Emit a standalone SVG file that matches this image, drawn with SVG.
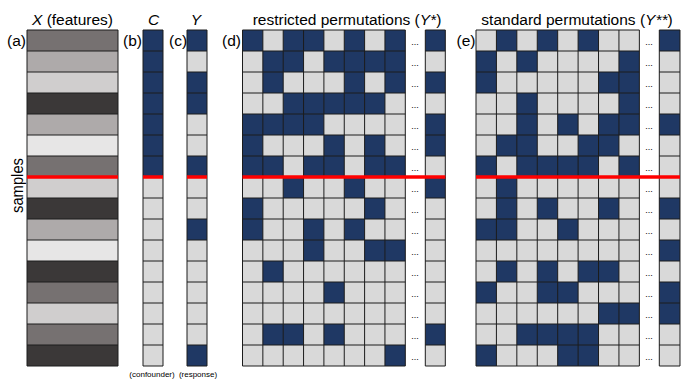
<svg xmlns="http://www.w3.org/2000/svg" width="692" height="389" viewBox="0 0 692 389">
<style>
text{font-family:"Liberation Sans",Arial,sans-serif;fill:#000}
.t{font-size:15.5px}
.s{font-size:8px}
.i{font-style:italic}
.dots{font-size:9px;fill:#444;text-anchor:middle}
.g{fill:#d9d9d9}
.b{fill:#1f3864}
.grid{fill:none;stroke:#1c1c1c;stroke-width:1;vector-effect:non-scaling-stroke}
.red{stroke:#ff0000;stroke-width:3.5}
</style>
<rect width="692" height="389" fill="#fff"/>

<g id="panel-a">
  <g transform="translate(27 30) scale(91 21)">
    <rect y="0" width="1" height="1" fill="#767171"/>
    <rect y="1" width="1" height="1" fill="#aeaaaa"/>
    <rect y="2" width="1" height="1" fill="#d0cece"/>
    <rect y="3" width="1" height="1" fill="#3b3838"/>
    <rect y="4" width="1" height="1" fill="#aeaaaa"/>
    <rect y="5" width="1" height="1" fill="#e7e6e6"/>
    <rect y="6" width="1" height="1" fill="#767171"/>
    <rect y="7" width="1" height="1" fill="#d0cece"/>
    <rect y="8" width="1" height="1" fill="#3b3838"/>
    <rect y="9" width="1" height="1" fill="#aeaaaa"/>
    <rect y="10" width="1" height="1" fill="#e7e6e6"/>
    <rect y="11" width="1" height="1" fill="#3b3838"/>
    <rect y="12" width="1" height="1" fill="#767171"/>
    <rect y="13" width="1" height="1" fill="#d0cece"/>
    <rect y="14" width="1" height="1" fill="#767171"/>
    <rect y="15" width="1" height="1" fill="#3b3838"/>
    <path class="grid" d="M0 0H1M0 1H1M0 2H1M0 3H1M0 4H1M0 5H1M0 6H1M0 7H1M0 8H1M0 9H1M0 10H1M0 11H1M0 12H1M0 13H1M0 14H1M0 15H1M0 16H1M0 0V16M1 0V16"/>
  </g>
  <line class="red" x1="27" y1="177" x2="118" y2="177"/>
  <text class="t" x="72.5" y="25" text-anchor="middle"><tspan class="i">X</tspan> (features)</text>
  <text class="t" x="7" y="45.5">(a)</text>
  <text x="23" y="185.5" font-size="17" text-anchor="middle" textLength="55" lengthAdjust="spacingAndGlyphs" transform="rotate(-90 23 185.5)">samples</text>
</g>

<g id="panel-b">
  <g transform="translate(143 30) scale(20 21)">
    <rect class="g" width="1" height="16"/>
    <rect class="b" width="1" height="7"/>
    <path class="grid" d="M0 0H1M0 1H1M0 2H1M0 3H1M0 4H1M0 5H1M0 6H1M0 7H1M0 8H1M0 9H1M0 10H1M0 11H1M0 12H1M0 13H1M0 14H1M0 15H1M0 16H1M0 0V16M1 0V16"/>
  </g>
  <line class="red" x1="143" y1="177" x2="163" y2="177"/>
  <text class="t i" x="153.5" y="25" text-anchor="middle">C</text>
  <text class="t" x="123" y="45.5">(b)</text>
  <text class="s" x="152" y="376.5" text-anchor="middle">(confounder)</text>
</g>

<g id="panel-c">
  <g transform="translate(187 30) scale(20 21)">
    <rect class="g" width="1" height="16"/>
    <rect class="b" y="0" width="1" height="1"/>
    <rect class="b" y="2" width="1" height="2"/>
    <rect class="b" y="6" width="1" height="1"/>
    <rect class="b" y="9" width="1" height="1"/>
    <rect class="b" y="15" width="1" height="1"/>
    <path class="grid" d="M0 0H1M0 1H1M0 2H1M0 3H1M0 4H1M0 5H1M0 6H1M0 7H1M0 8H1M0 9H1M0 10H1M0 11H1M0 12H1M0 13H1M0 14H1M0 15H1M0 16H1M0 0V16M1 0V16"/>
  </g>
  <line class="red" x1="187" y1="177" x2="207" y2="177"/>
  <text class="t i" x="196" y="25" text-anchor="middle">Y</text>
  <text class="t" x="169" y="45.5">(c)</text>
  <text class="s" x="198" y="376.5" text-anchor="middle">(response)</text>
</g>

<g id="panel-d">
  <g transform="translate(242.5 30) scale(20.35 21)">
    <rect class="g" width="8" height="16"/>
    <g class="b">
      <rect x="0" y="0" width="1" height="1"/><rect x="2" y="0" width="2" height="1"/><rect x="5" y="0" width="1" height="1"/><rect x="7" y="0" width="1" height="1"/>
      <rect x="1" y="1" width="2" height="1"/><rect x="4" y="1" width="4" height="1"/>
      <rect x="1" y="2" width="1" height="1"/><rect x="5" y="2" width="1" height="1"/><rect x="7" y="2" width="1" height="1"/>
      <rect x="2" y="3" width="5" height="1"/>
      <rect x="0" y="4" width="4" height="1"/>
      <rect x="0" y="5" width="1" height="1"/><rect x="4" y="5" width="1" height="1"/><rect x="6" y="5" width="1" height="1"/>
      <rect x="0" y="6" width="2" height="1"/><rect x="3" y="6" width="2" height="1"/><rect x="6" y="6" width="2" height="1"/>
      <rect x="2" y="7" width="1" height="1"/><rect x="5" y="7" width="1" height="1"/>
      <rect x="0" y="8" width="1" height="1"/><rect x="6" y="8" width="1" height="1"/>
      <rect x="0" y="9" width="1" height="1"/><rect x="3" y="9" width="1" height="1"/><rect x="5" y="9" width="1" height="1"/>
      <rect x="3" y="10" width="1" height="1"/><rect x="6" y="10" width="2" height="1"/>
      <rect x="1" y="11" width="1" height="1"/>
      <rect x="4" y="12" width="1" height="1"/>
      <rect x="1" y="14" width="2" height="1"/><rect x="4" y="14" width="1" height="1"/>
      <rect x="7" y="15" width="1" height="1"/>
    </g>
    <path class="grid" d="M0 0H8M0 1H8M0 2H8M0 3H8M0 4H8M0 5H8M0 6H8M0 7H8M0 8H8M0 9H8M0 10H8M0 11H8M0 12H8M0 13H8M0 14H8M0 15H8M0 16H8M0 0V16M1 0V16M2 0V16M3 0V16M4 0V16M5 0V16M6 0V16M7 0V16M8 0V16"/>
  </g>
  <g transform="translate(425.3 30) scale(20 21)">
    <rect class="g" width="1" height="16"/>
    <g class="b">
      <rect y="0" width="1" height="1"/><rect y="2" width="1" height="1"/><rect y="4" width="1" height="2"/><rect y="7" width="1" height="1"/><rect y="14" width="1" height="1"/>
    </g>
    <path class="grid" d="M0 0H1M0 1H1M0 2H1M0 3H1M0 4H1M0 5H1M0 6H1M0 7H1M0 8H1M0 9H1M0 10H1M0 11H1M0 12H1M0 13H1M0 14H1M0 15H1M0 16H1M0 0V16M1 0V16"/>
  </g>
  <g class="dots">
    <text x="415" y="44.5">...</text><text x="415" y="65.5">...</text><text x="415" y="86.5">...</text><text x="415" y="107.5">...</text>
    <text x="415" y="128.5">...</text><text x="415" y="149.5">...</text><text x="415" y="170.5">...</text><text x="415" y="191.5">...</text>
    <text x="415" y="212.5">...</text><text x="415" y="233.5">...</text><text x="415" y="254.5">...</text><text x="415" y="275.5">...</text>
    <text x="415" y="296.5">...</text><text x="415" y="317.5">...</text><text x="415" y="338.5">...</text><text x="415" y="359.5">...</text>
  </g>
  <line class="red" x1="242.5" y1="177" x2="445.3" y2="177"/>
  <text class="t" x="241" y="45.5" text-anchor="end">(d)</text>
  <text class="t" x="347" y="25" text-anchor="middle">restricted permutations (<tspan class="i">Y*</tspan>)</text>
</g>

<g id="panel-e">
  <g transform="translate(476 30) scale(20.42 21)">
    <rect class="g" width="8" height="16"/>
    <g class="b">
      <rect x="1" y="0" width="1" height="1"/><rect x="3" y="0" width="1" height="1"/><rect x="5" y="0" width="1" height="1"/>
      <rect x="0" y="1" width="1" height="1"/><rect x="2" y="1" width="1" height="1"/><rect x="7" y="1" width="1" height="1"/>
      <rect x="0" y="2" width="1" height="1"/><rect x="6" y="2" width="2" height="1"/>
      <rect x="2" y="3" width="1" height="1"/><rect x="7" y="3" width="1" height="1"/>
      <rect x="2" y="4" width="1" height="1"/><rect x="4" y="4" width="1" height="1"/><rect x="6" y="4" width="2" height="1"/>
      <rect x="1" y="5" width="2" height="1"/><rect x="5" y="5" width="2" height="1"/>
      <rect x="0" y="6" width="1" height="1"/><rect x="2" y="6" width="4" height="1"/><rect x="7" y="6" width="1" height="1"/>
      <rect x="1" y="7" width="1" height="1"/>
      <rect x="1" y="8" width="1" height="1"/><rect x="3" y="8" width="1" height="1"/><rect x="6" y="8" width="1" height="1"/>
      <rect x="0" y="9" width="2" height="1"/><rect x="4" y="9" width="1" height="1"/>
      <rect x="1" y="11" width="1" height="1"/><rect x="3" y="11" width="1" height="1"/><rect x="5" y="11" width="2" height="1"/>
      <rect x="0" y="12" width="1" height="1"/><rect x="3" y="12" width="2" height="1"/>
      <rect x="6" y="13" width="2" height="1"/>
      <rect x="2" y="14" width="4" height="1"/>
      <rect x="0" y="15" width="1" height="1"/><rect x="4" y="15" width="2" height="1"/>
    </g>
    <path class="grid" d="M0 0H8M0 1H8M0 2H8M0 3H8M0 4H8M0 5H8M0 6H8M0 7H8M0 8H8M0 9H8M0 10H8M0 11H8M0 12H8M0 13H8M0 14H8M0 15H8M0 16H8M0 0V16M1 0V16M2 0V16M3 0V16M4 0V16M5 0V16M6 0V16M7 0V16M8 0V16"/>
  </g>
  <g transform="translate(659.3 30) scale(20.7 21)">
    <rect class="g" width="1" height="16"/>
    <g class="b">
      <rect y="0" width="1" height="1"/><rect y="4" width="1" height="1"/><rect y="8" width="1" height="1"/><rect y="10" width="1" height="1"/><rect y="12" width="1" height="2"/>
    </g>
    <path class="grid" d="M0 0H1M0 1H1M0 2H1M0 3H1M0 4H1M0 5H1M0 6H1M0 7H1M0 8H1M0 9H1M0 10H1M0 11H1M0 12H1M0 13H1M0 14H1M0 15H1M0 16H1M0 0V16M1 0V16"/>
  </g>
  <g class="dots">
    <text x="649" y="44.5">...</text><text x="649" y="65.5">...</text><text x="649" y="86.5">...</text><text x="649" y="107.5">...</text>
    <text x="649" y="128.5">...</text><text x="649" y="149.5">...</text><text x="649" y="170.5">...</text><text x="649" y="191.5">...</text>
    <text x="649" y="212.5">...</text><text x="649" y="233.5">...</text><text x="649" y="254.5">...</text><text x="649" y="275.5">...</text>
    <text x="649" y="296.5">...</text><text x="649" y="317.5">...</text><text x="649" y="338.5">...</text><text x="649" y="359.5">...</text>
  </g>
  <line class="red" x1="476" y1="177" x2="680" y2="177"/>
  <text class="t" x="475.5" y="45.5" text-anchor="end">(e)</text>
  <text class="t" x="577" y="25" text-anchor="middle">standard permutations (<tspan class="i">Y**</tspan>)</text>
</g>
</svg>
